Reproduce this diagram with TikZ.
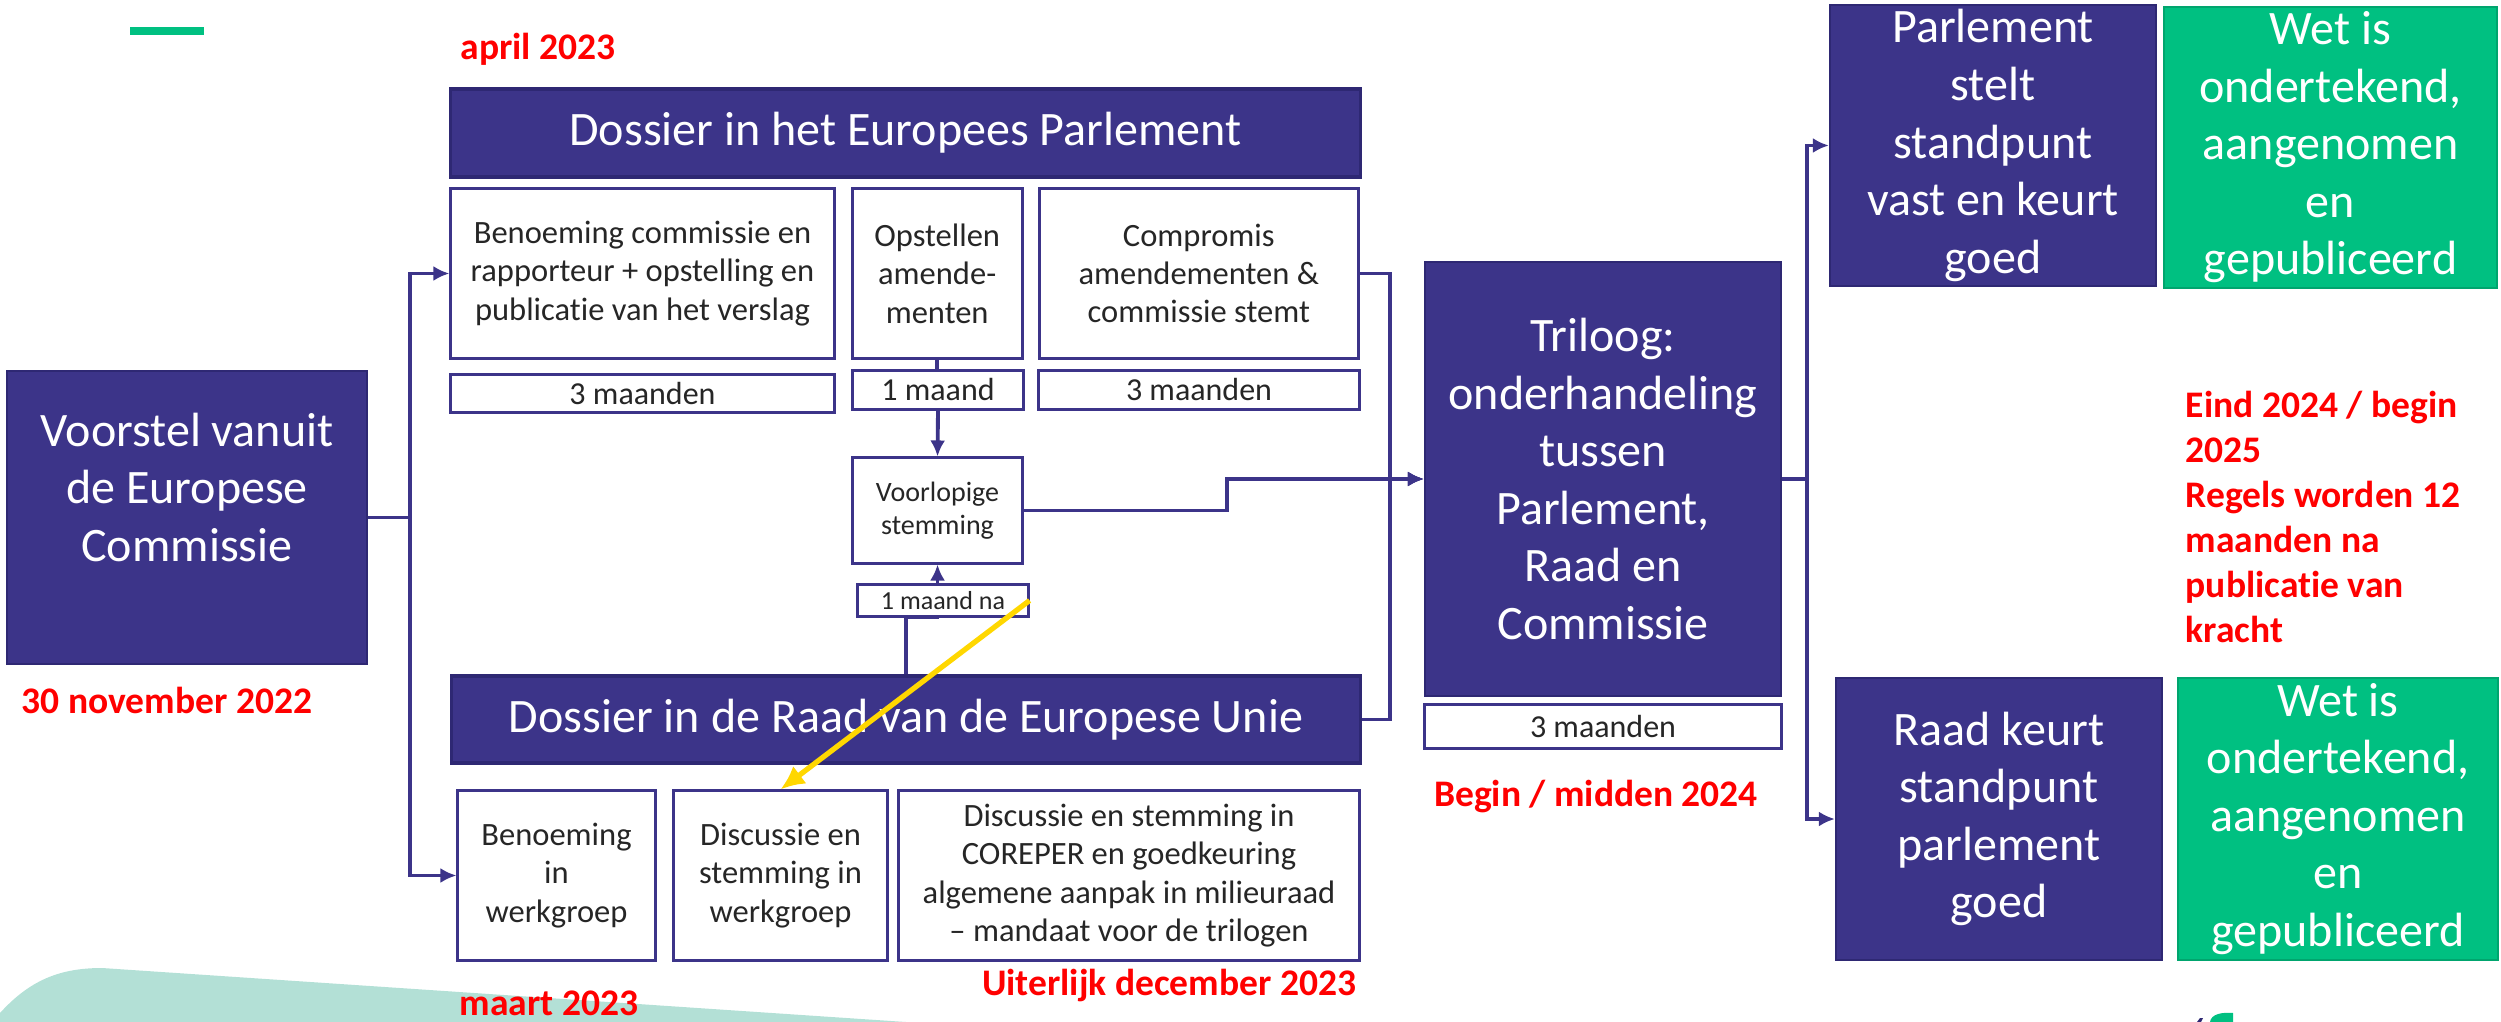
\documentclass[tikz,border=0pt]{standalone}
\usepackage{fontspec}
\setmainfont{Carlito}[Ligatures=NoCommon]
\usepackage{tikz}
\usetikzlibrary{shapes,arrows,arrows.meta,positioning}

\definecolor{ecpaars}{HTML}{3C3489}
\definecolor{ecrand}{HTML}{2E2873}
\definecolor{ecgroen}{HTML}{00C081}
\definecolor{ecgroenrand}{HTML}{00A56E}
\definecolor{ecmint}{HTML}{B3E0D6}
\definecolor{ecgeel}{HTML}{FFD700}
\definecolor{ectekst}{HTML}{262626}

\begin{document}
\begin{tikzpicture}[x=0.01cm, y=-0.01cm]
    % Stijlen
    \tikzstyle{kop} = [rectangle, draw=ecrand, line width=0.9pt, fill=ecpaars, text=white, minimum width=9.09cm, minimum height=0.88cm, inner sep=0pt, font=\fontsize{13.66}{16.4}\selectfont]
    \tikzstyle{stap} = [rectangle, draw=ecpaars, line width=0.85pt, fill=white, text=ectekst, align=center, minimum height=1.69cm, inner sep=0pt, font=\fontsize{9.25}{10.9}\selectfont]
    \tikzstyle{duur} = [rectangle, draw=ecpaars, line width=0.85pt, fill=white, text=ectekst, minimum height=0.38cm, inner sep=0pt, font=\fontsize{9.1}{10.9}\selectfont]
    \tikzstyle{blok} = [rectangle, draw=ecrand, line width=0.6pt, fill=ecpaars, text=white, align=center, inner sep=0pt, font=\fontsize{13.66}{16.36}\selectfont]
    \tikzstyle{bloktekst} = [text=white, align=center, inner sep=0pt, font=\fontsize{13.66}{16.36}\selectfont]
    \tikzstyle{wet} = [blok, draw=ecgroenrand, fill=ecgroen]
    \tikzstyle{datum} = [text=red, inner sep=0pt, font=\bfseries\fontsize{10.67}{12.8}\selectfont]
    \tikzstyle{line} = [draw=ecpaars, line width=1.1pt, -{Latex[length=0.16cm, width=0.15cm]}]
    \tikzstyle{geel} = [draw=ecgeel, line width=1.5pt, -{Latex[length=0.24cm, width=0.22cm]}]

    \useasboundingbox (0,0) rectangle (2501,1022);

    % Achtergrond
    \fill[ecmint] (0,1022) -- (0,1013) .. controls (30,980) and (60,968) .. (102,968) -- (906,1022) -- cycle;
    \fill[ecgroen] (130,27) rectangle (204,35);
    \fill[ecgroen] (2210,1022) .. controls (2211,1014) and (2222,1012) .. (2233,1013) -- (2233,1022) -- cycle;
    \fill[ecrand] (2197,1022) -- (2200,1018) -- (2203,1018) -- (2201,1022) -- cycle;

    % Commissie
    \node [blok, minimum width=3.6cm, minimum height=2.93cm] (voorstel) at (187,517.5) {};
    \node [bloktekst] (voorsteltekst) at ([yshift=0.3cm]voorstel.center) {Voorstel vanuit\\de Europese\\Commissie};

    % Europees Parlement
    \node [kop] (ephead) at (905.5,133) {Dossier in het Europees Parlement};
    \node [stap, minimum width=3.83cm] (epbox1) at (642.5,273.5) {Benoeming commissie en\\rapporteur + opstelling en\\publicatie van het verslag};
    \node [stap, minimum width=1.70cm, right=0.15cm of epbox1] (epbox2) {Opstellen\\amende-\\menten};
    \node [stap, minimum width=3.19cm, right=0.14cm of epbox2] (epbox3) {Compromis\\amendementen \&\\commissie stemt};
    \node [duur, minimum width=3.83cm, below=0.13cm of epbox1] (epdur1) {3 maanden};
    \node [duur, minimum width=1.70cm] (epdur2) at (938,390) {1 maand};
    \node [duur, minimum width=3.20cm] (epdur3) at (1199,390) {3 maanden};
    \node [stap, minimum width=1.69cm, minimum height=1.05cm, font=\fontsize{7.97}{9.4}\selectfont] (voorlopig) at (937.5,510.5) {Voorlopige\\stemming};

    % Raad van de Europese Unie
    \node [kop, minimum height=0.87cm] (council) at (906,719.5) {Dossier in de Raad van de Europese Unie};
    \node [stap, minimum width=1.97cm] (rbox1) at (556.5,875.5) {Benoeming\\in\\werkgroep};
    \node [stap, minimum width=2.13cm] (rbox2) at (780.5,875.5) {Discussie en\\stemming in\\werkgroep};
    \node [stap, minimum width=4.60cm] (rbox3) at (1129,875.5) {Discussie en stemming in\\COREPER en goedkeuring\\algemene aanpak in milieuraad\\– mandaat voor de trilogen};

    % Triloog en afronding
    \node [blok, minimum width=3.56cm, minimum height=4.34cm] (triloog) at (1603,479) {Triloog:\\onderhandeling\\tussen\\Parlement,\\Raad en\\Commissie};
    \node [duur, minimum width=3.56cm, minimum height=0.43cm] (tridur) at (1603,726.5) {3 maanden};
    \node [blok, minimum width=3.26cm, minimum height=2.81cm] (parlstelt) at (1993,145.5) {Parlement\\stelt\\standpunt\\vast en keurt\\goed};
    \node [wet, minimum width=3.33cm, minimum height=2.81cm] (wettop) at (2330.5,147.5) {Wet is\\ondertekend,\\aangenomen\\en\\gepubliceerd};
    \node [blok, minimum width=3.26cm, minimum height=2.82cm] (raadkeurt) at (1999,819) {Raad keurt\\standpunt\\parlement\\goed};
    \node [wet, minimum width=3.20cm, minimum height=2.82cm] (wetbot) at (2338,819) {Wet is\\ondertekend,\\aangenomen\\en\\gepubliceerd};

    % Data
    \node [datum, anchor=base west] (april) at (460,60) {april 2023};
    \node [datum, anchor=base west] (november) at (21,713) {30 november 2022};
    \node [datum, anchor=base west] (maart) at (459,1015) {maart 2023};
    \node [datum, anchor=base east] (uiterlijk) at (1357,995) {Uiterlijk december 2023};
    \node [datum, anchor=base] (midden) at (1596,806) {Begin / midden 2024};
    \node [datum, anchor=north west, align=left] (inwerking) at (2185,390) {Eind 2024 / begin\\2025\\Regels worden 12\\maanden na\\publicatie van\\kracht};

    % Verbindingen
    \coordinate (samen) at (1390,479);
    \path [line] (voorstel.east) -- ++(42,0) |- (epbox1.west);
    \path [line] (voorstel.east) -- ++(42,0) |- (rbox1.west);
    \path [draw=ecpaars, line width=1.1pt] (epbox2.south) -- (epbox2.south |- epdur2.north);
    \path [line] (epdur2.south) -- (voorlopig.north);
    \path [line] (epbox3.east) -| (samen) -- (triloog.west);
    \path [line] (council.east) -| (samen) -- (triloog.west);
    \path [line] (voorlopig.east) -- ++(203,0) |- (triloog.west);
    \path [line] (council.north) -- ++(0,-57) -| (voorlopig.south);
    \path [line] (triloog.east) -- ++(25,0) |- (parlstelt.west);
    \path [line] (triloog.east) -- ++(25,0) |- (raadkeurt.west);

    \node [duur, minimum width=1.70cm, minimum height=0.31cm, font=\fontsize{7.4}{9}\selectfont] (maandna) at (943,600.5) {1 maand na};
    \path [geel] (maandna.east) -- (rbox2.north);
\end{tikzpicture}
\end{document}
